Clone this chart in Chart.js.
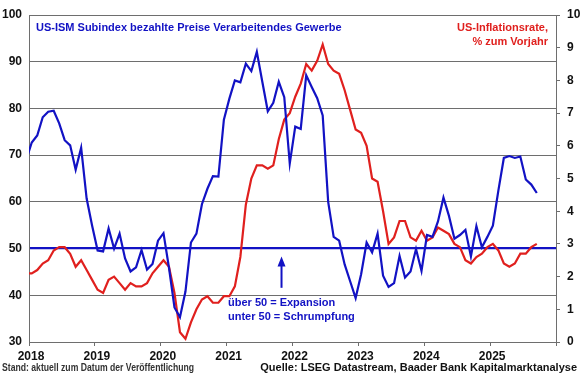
<!DOCTYPE html>
<html>
<head>
<meta charset="utf-8">
<script src="https://cdn.jsdelivr.net/npm/chart.js@4"></script>
<style>
  body { margin:0; background:#fff; }
  #wrap { width:580px; height:375px; }
</style>
</head>
<body>
<div id="wrap"><canvas id="chart" width="580" height="375"></canvas></div>
<script>
// monthly values, first month = Dec 2017
const START_MONTH = -1; // months relative to Jan 2018
const ismPrices = [
  69.0,
  72.7, 74.2, 78.1, 79.3, 79.5, 76.8, 73.2, 72.1, 66.9, 71.6, 60.7, 54.9,
  49.6, 49.4, 54.3, 50.0, 53.2, 47.9, 45.1, 46.0, 49.7, 45.5, 46.7, 51.7,
  53.3, 45.9, 37.4, 35.3, 40.8, 51.3, 53.2, 59.5, 62.8, 65.5, 65.4, 77.6,
  82.1, 86.0, 85.6, 89.6, 88.0, 92.1, 85.7, 79.4, 81.2, 85.7, 82.4, 68.2,
  76.1, 75.6, 87.1, 84.6, 82.2, 78.5, 60.0, 52.5, 51.7, 46.6, 43.0, 39.4,
  44.5, 51.3, 49.2, 53.2, 44.2, 41.8, 42.6, 48.4, 43.8, 45.1, 49.9, 45.2,
  52.9, 52.5, 55.8, 60.9, 57.0, 52.1, 52.9, 54.0, 48.3, 54.8, 50.3, 52.5,
  54.9, 62.4, 69.4, 69.8, 69.4, 69.7, 64.8, 63.7, 61.9
];
const cpiYoY = [
  2.1,
  2.1, 2.2, 2.4, 2.5, 2.8, 2.9, 2.9, 2.7, 2.3, 2.5, 2.2, 1.9,
  1.6, 1.5, 1.9, 2.0, 1.8, 1.6, 1.8, 1.7, 1.7, 1.8, 2.1, 2.3,
  2.5, 2.3, 1.5, 0.3, 0.1, 0.6, 1.0, 1.3, 1.4, 1.2, 1.2, 1.4,
  1.4, 1.7, 2.6, 4.2, 5.0, 5.4, 5.4, 5.3, 5.4, 6.2, 6.8, 7.0,
  7.5, 7.9, 8.5, 8.3, 8.6, 9.1, 8.5, 8.3, 8.2, 7.7, 7.1, 6.5,
  6.4, 6.0, 5.0, 4.9, 4.0, 3.0, 3.2, 3.7, 3.7, 3.2, 3.1, 3.4,
  3.1, 3.2, 3.5, 3.4, 3.3, 3.0, 2.9, 2.5, 2.4, 2.6, 2.7, 2.9,
  3.0, 2.8, 2.4, 2.3, 2.4, 2.7, 2.7, 2.9, 3.0
];
const yearLabels = ["2018","2019","2020","2021","2022","2023","2024","2025"];
const leftTicks = [30, 40, 50, 60, 70, 80, 90, 100];

const BLUE = "#1212c4";
const RED = "#e0201e";
const GRID = "#6e6e6e";
const FONT = '"Liberation Sans", Arial, sans-serif';

// points sit in the middle of their month
function toPoints(values){
  return values.map((v,i)=>({ x: START_MONTH + i + 0.5, y: v }));
}

const textPlugin = {
  id: "texts",
  afterDraw(chart){
    const ctx = chart.ctx;
    const xs = chart.scales.x, ys = chart.scales.y;
    ctx.save();
    ctx.textBaseline = "middle";

    ctx.font = "bold 11px " + FONT;
    ctx.fillStyle = BLUE;
    ctx.textAlign = "left";
    ctx.fillText("US-ISM Subindex bezahlte Preise Verarbeitendes Gewerbe", 36, 28);

    ctx.fillStyle = RED;
    ctx.textAlign = "right";
    ctx.fillText("US-Inflationsrate,", 548, 28);
    ctx.fillText("% zum Vorjahr", 548, 42);

    // arrow pointing at the 50 line
    const ax = xs.getPixelForValue(46);
    const top = ys.getPixelForValue(48.3);
    const bot = ys.getPixelForValue(41.6);
    ctx.strokeStyle = BLUE;
    ctx.fillStyle = BLUE;
    ctx.lineWidth = 2;
    ctx.beginPath();
    ctx.moveTo(ax, bot);
    ctx.lineTo(ax, top + 8);
    ctx.stroke();
    ctx.beginPath();
    ctx.moveTo(ax, top);
    ctx.lineTo(ax - 4, top + 10);
    ctx.lineTo(ax + 4, top + 10);
    ctx.closePath();
    ctx.fill();

    ctx.textAlign = "left";
    ctx.font = "bold 11px " + FONT;
    ctx.fillText("über 50 = Expansion", 228, 303);
    ctx.fillText("unter 50 = Schrumpfung", 228, 317);

    // footnotes
    ctx.fillStyle = "#333";
    ctx.font = "bold 10px " + FONT;
    ctx.fillText("Stand: aktuell zum Datum der Veröffentlichung", 2, 368, 192);
    ctx.fillStyle = "#111";
    ctx.textAlign = "right";
    ctx.font = "bold 11px " + FONT;
    ctx.fillText("Quelle: LSEG Datastream, Baader Bank Kapitalmarktanalyse", 577, 368);
    ctx.restore();
  }
};

new Chart(document.getElementById("chart"), {
  type: "line",
  data: {
    datasets: [
      { data: toPoints(ismPrices), yAxisID: "y", borderColor: BLUE, borderWidth: 2.2,
        pointRadius: 0, tension: 0 },
      { data: toPoints(cpiYoY), yAxisID: "y1", borderColor: RED, borderWidth: 2.2,
        pointRadius: 0, tension: 0 }
    ]
  },
  options: {
    responsive: false,
    animation: false,
    layout: { padding: { top: 15, left: 0, right: 0, bottom: 0 } },
    plugins: { legend: { display: false }, tooltip: { enabled: false } },
    scales: {
      x: {
        type: "linear", min: 0, max: 96,
        afterFit: s => { s.height = 33; },
        afterBuildTicks: s => { s.ticks = yearLabels.concat("").map((_,i)=>({ value: i*12 })); },
        ticks: {
          callback: v => yearLabels[v/12] || "",
          font: { family: FONT, size: 12, weight: "bold" }, color: "#111",
          padding: 3, labelOffset: 2, maxRotation: 0
        },
        grid: { drawOnChartArea: false, color: GRID, tickLength: 4 },
        border: { color: GRID }
      },
      y: {
        position: "left", min: 30, max: 100,
        afterFit: s => { s.width = 29; },
        afterBuildTicks: s => { s.ticks = leftTicks.map(v=>({ value: v })); },
        ticks: {
          font: { family: FONT, size: 12, weight: "bold" }, color: "#111", padding: 7
        },
        grid: {
          drawTicks: false,
          color: c => c.tick && c.tick.value === 50 ? BLUE : GRID,
          lineWidth: c => c.tick && c.tick.value === 50 ? 2.2 : 1
        },
        border: { color: GRID }
      },
      y1: {
        position: "right", min: 0, max: 10,
        afterFit: s => { s.width = 24; },
        ticks: {
          stepSize: 1,
          font: { family: FONT, size: 12, weight: "bold" }, color: "#111", padding: 7
        },
        grid: { drawOnChartArea: false, color: GRID, tickLength: 4 },
        border: { color: GRID }
      }
    }
  },
  plugins: [textPlugin]
});
</script>
</body>
</html>
